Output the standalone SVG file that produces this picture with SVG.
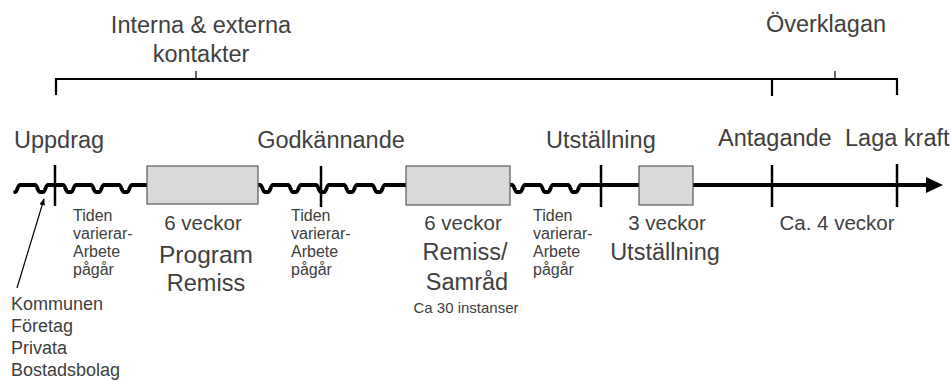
<svg xmlns="http://www.w3.org/2000/svg" width="951" height="380" viewBox="0 0 951 380">
  <style>
    text { font-family: "Liberation Sans", Arial, sans-serif; fill: #404040; }
    .big { font-size: 23.5px; }
    .prog { font-size: 24.5px; }
    .mid { font-size: 20.5px; }
    .small { font-size: 16px; }
    .who { font-size: 18px; }
    .box { fill: #d9d9d9; stroke: #595959; stroke-width: 1.2; }
    .tick { stroke: #000; stroke-width: 2.5; fill: none; }
    .wave { stroke: #000; stroke-width: 3.8; fill: none; stroke-linejoin: round; stroke-linecap: round; }
    .bracket { stroke: #000; stroke-width: 2.2; fill: none; }
    .thin { stroke: #000; stroke-width: 1.2; fill: none; }
  </style>
  <defs>
    <marker id="head" viewBox="0 0 10 10" refX="9" refY="5" markerWidth="7" markerHeight="7" orient="auto" markerUnits="userSpaceOnUse">
      <path d="M0,1 L10,5 L0,9 Z" fill="#000"/>
    </marker>
  </defs>

  <!-- bracket across the top -->
  <g id="contacts">
    <path class="bracket" d="M56,95 V79 H897 V95"/>
    <path class="bracket" d="M772,79 V96"/>
    <path class="thin" d="M196,79 V71"/>
    <path class="thin" d="M835,79 V71"/>
    <text class="big" x="201" y="33" text-anchor="middle">Interna &amp; externa</text>
    <text class="big" x="201" y="62" text-anchor="middle">kontakter</text>
    <text class="big" x="826" y="32" text-anchor="middle">Överklagan</text>
  </g>

  <!-- timeline: wavy open-ended stretches, then a straight fixed-length run -->
  <g id="connectors">
    <path class="wave" d="M15,192 c2.5,0 2.5,-7 5,-7 h15 c2.5,0 2.5,7 5,7 h3 c2.5,0 2.5,-7 5,-7 h15 c2.5,0 2.5,7 5,7 h3 c2.5,0 2.5,-7 5,-7 h15 c2.5,0 2.5,7 5,7 h3 c2.5,0 2.5,-7 5,-7 h15 c2.5,0 2.5,7 5,7 h3 c2.5,0 2.5,-7 5,-7 h15"/>
    <path class="wave" d="M258,185 h2 c2.5,0 2.5,7 5,7 h3 c2.5,0 2.5,-7 5,-7 h15 c2.5,0 2.5,7 5,7 h3 c2.5,0 2.5,-7 5,-7 h15 c2.5,0 2.5,7 5,7 h3 c2.5,0 2.5,-7 5,-7 h15 c2.5,0 2.5,7 5,7 h3 c2.5,0 2.5,-7 5,-7 h15 c2.5,0 2.5,7 5,7 h3 c2.5,0 2.5,-7 5,-7 h21"/>
    <path class="wave" d="M510,185 h2 c2.5,0 2.5,7 5,7 h3 c2.5,0 2.5,-7 5,-7 h15 c2.5,0 2.5,7 5,7 h3 c2.5,0 2.5,-7 5,-7 h15 c2.5,0 2.5,7 5,7 h3 c2.5,0 2.5,-7 5,-7 H928"/>
    <polygon points="943,185 926,177 926,193" fill="#000"/>
    <path class="tick" d="M55,165 V206"/>
    <path class="tick" d="M321,166 V207"/>
    <path class="tick" d="M601,165 V207"/>
    <path class="tick" d="M772,165 V207"/>
    <path class="tick" d="M897,164 V207"/>
    <path class="thin" d="M17,288 L44,199" marker-end="url(#head)"/>
  </g>

  <!-- milestones -->
  <g id="uppdrag">
    <text class="big" x="14" y="148">Uppdrag</text>
  </g>
  <g id="godkannande">
    <text class="big" x="331" y="148" text-anchor="middle">Godkännande</text>
  </g>
  <g id="utstallning-mark">
    <text class="big" x="546" y="148">Utställning</text>
  </g>
  <g id="antagande">
    <text class="big" x="718" y="146">Antagande</text>
  </g>
  <g id="laga-kraft">
    <text class="big" x="845" y="146">Laga kraft</text>
  </g>

  <!-- phases -->
  <g id="program-remiss">
    <rect class="box" x="147" y="166" width="111" height="38"/>
    <text class="mid" x="203" y="230" text-anchor="middle">6 veckor</text>
    <text class="prog" x="206" y="263" text-anchor="middle">Program</text>
    <text class="big" x="206" y="291" text-anchor="middle">Remiss</text>
  </g>
  <g id="remiss-samrad">
    <rect class="box" x="406" y="166" width="104" height="39"/>
    <text class="mid" x="463" y="230" text-anchor="middle">6 veckor</text>
    <text class="big" x="465" y="260" text-anchor="middle">Remiss/</text>
    <text class="big" x="467" y="290" text-anchor="middle">Samråd</text>
    <text class="small" x="466" y="313" text-anchor="middle" style="font-size:15px">Ca 30 instanser</text>
  </g>
  <g id="utstallning">
    <rect class="box" x="639" y="166" width="54" height="39"/>
    <text class="mid" x="667" y="230" text-anchor="middle">3 veckor</text>
    <text class="big" x="665" y="260" text-anchor="middle">Utställning</text>
  </g>
  <g id="overklagan-period">
    <text class="mid" x="837" y="230" text-anchor="middle">Ca. 4 veckor</text>
  </g>

  <!-- open-ended work periods -->
  <g id="period-1">
    <text class="small" x="73" y="221">Tiden</text>
    <text class="small" x="73" y="239">varierar-</text>
    <text class="small" x="73" y="257">Arbete</text>
    <text class="small" x="73" y="275">pågår</text>
  </g>
  <g id="period-2">
    <text class="small" x="291" y="221">Tiden</text>
    <text class="small" x="291" y="239">varierar-</text>
    <text class="small" x="291" y="257">Arbete</text>
    <text class="small" x="291" y="275">pågår</text>
  </g>
  <g id="period-3">
    <text class="small" x="533" y="221">Tiden</text>
    <text class="small" x="533" y="239">varierar-</text>
    <text class="small" x="533" y="257">Arbete</text>
    <text class="small" x="533" y="275">pågår</text>
  </g>

  <g id="parties">
    <text class="who" x="11" y="310">Kommunen</text>
    <text class="who" x="11" y="332">Företag</text>
    <text class="who" x="11" y="354">Privata</text>
    <text class="who" x="11" y="376">Bostadsbolag</text>
  </g>
</svg>
